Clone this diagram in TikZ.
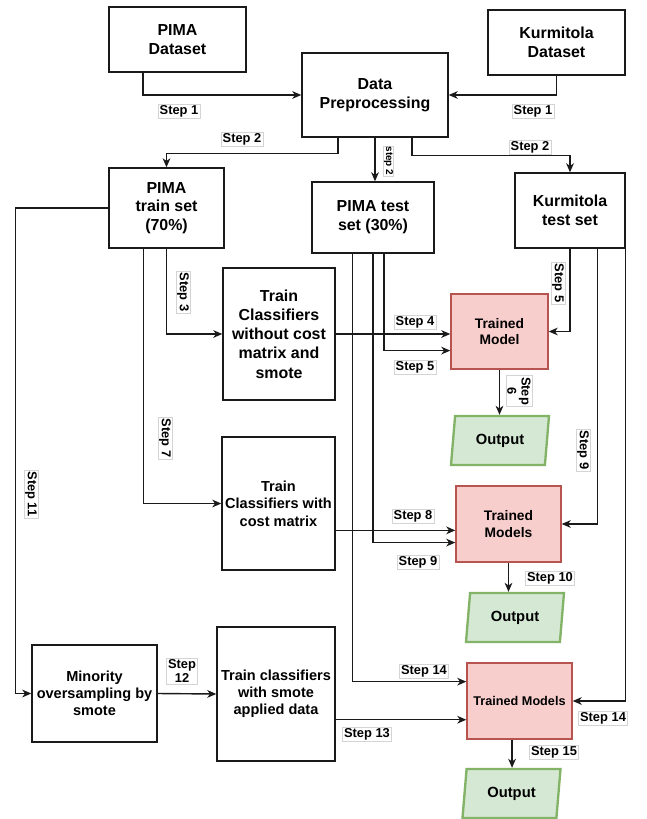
\documentclass[tikz,border=0pt]{standalone}
\usepackage{fontspec}
\setmainfont{Liberation Sans}
\usetikzlibrary{arrows.meta,calc,shapes.geometric,shadows}
\definecolor{Ink}{HTML}{1A1A1A}
\definecolor{ModelFill}{HTML}{F8CECC}
\definecolor{ModelLine}{HTML}{B85450}
\definecolor{OutFill}{HTML}{D5E8D4}
\definecolor{OutLine}{HTML}{82B366}
\definecolor{TagLine}{HTML}{D4D4D4}

\begin{document}
\begin{tikzpicture}[x=0.03cm,y=-0.03cm,>={Stealth[length=2.7mm,width=2.3mm,inset=0.8mm]},
  box/.style={draw=Ink,line width=1.2pt,fill=white,align=center,inner sep=1pt,
    drop shadow={shadow xshift=1.2pt,shadow yshift=-1.2pt,opacity=0.25,fill=black}},
  bigtext/.style={font=\fontsize{13.6}{16}\selectfont\bfseries},
  midtext/.style={font=\fontsize{12.4}{14.4}\selectfont\bfseries},
  model/.style={box,draw=ModelLine,fill=ModelFill},
  output/.style={trapezium,trapezium left angle=73,trapezium right angle=107,trapezium stretches body,
    draw=OutLine,fill=OutFill,line width=2pt,inner sep=0pt,minimum width=2.94cm,minimum height=1.47cm,
    font=\fontsize{12.6}{14}\selectfont\bfseries},
  flow/.style={->,draw=Ink,line width=1.2pt},
  tag/.style={draw=TagLine,line width=0.4pt,fill=white,inner sep=1.2pt,align=center,
    font=\fontsize{11}{12.2}\selectfont\bfseries}]
  \useasboundingbox (0,0) rectangle (646,819);

  % datasets and preprocessing
  \node[box,bigtext,minimum width=4.11cm,minimum height=1.95cm] (pimads) at (177.5,39.5) {PIMA\\Dataset};
  \node[box,bigtext,minimum width=4.11cm,minimum height=1.95cm] (kurds) at (556.5,42.5) {Kurmitola\\Dataset};
  \node[box,bigtext,minimum width=4.38cm,minimum height=2.52cm] (prep) at (375,95) {Data\\Preprocessing};

  % splits
  \node[box,bigtext,minimum width=3.45cm,minimum height=2.40cm] (pimatrain) at (166.5,208) {PIMA\\train set\\(70\%)};
  \node[box,bigtext,minimum width=3.66cm,minimum height=2.13cm] (pimatest) at (373,217.5) {PIMA test\\set (30\%)};
  \node[box,bigtext,minimum width=3.30cm,minimum height=2.25cm] (kurtest) at (570,210.5) {Kurmitola\\test set};

  % training branches
  \node[box,font=\fontsize{13.6}{16.4}\selectfont\bfseries,minimum width=3.36cm,minimum height=3.96cm] (trainA) at (279,334)
    {Train\\Classifiers\\without cost\\matrix and\\smote};
  \node[box,font=\fontsize{12.4}{15}\selectfont\bfseries,minimum width=3.39cm,minimum height=3.99cm] (trainB) at (278.5,503.5)
    {Train\\Classifiers with\\cost matrix};
  \node[box,midtext,minimum width=3.75cm,minimum height=2.91cm] (minor) at (94.5,693.5) {Minority\\oversampling by\\smote};
  \node[box,midtext,minimum width=3.54cm,minimum height=4.02cm] (trainC) at (276,694) {Train classifiers\\with smote\\applied data};

  % models and outputs
  \node[model,font=\fontsize{11.8}{14.2}\selectfont\bfseries,minimum width=2.91cm,minimum height=2.25cm] (modelA) at (499.5,331.5) {Trained\\Model};
  \node[model,font=\fontsize{11.8}{14.2}\selectfont\bfseries,minimum width=3.15cm,minimum height=2.28cm] (modelB) at (508.5,524) {Trained\\Models};
  \node[model,font=\fontsize{10.8}{13}\selectfont\bfseries,minimum width=3.15cm,minimum height=2.28cm] (modelC) at (519.5,701) {Trained Models};
  \node[output] (outA) at (500,440.5) {Output};
  \node[output] (outB) at (515,617.5) {Output};
  \node[output] (outC) at (511.5,793.5) {Output};

  \coordinate (trainBout) at ($(trainB.north east)!0.7!(trainB.south east)$);
  \coordinate (trainCout) at ($(trainC.north east)!0.69!(trainC.south east)$);
  \coordinate (modelCout) at ($(modelC.south west)!0.43!(modelC.south east)$);

  % connectors
  \draw[flow] ($(pimads.south west)!0.25!(pimads.south east)$) |- (prep.west);
  \draw[flow] (kurds.south) |- (prep.east);
  \draw[flow] ($(prep.south west)!0.25!(prep.south east)$) -- ++(0,16) -| (pimatrain.north);
  \draw[flow] (prep.south) -- (prep.south |- pimatest.north);
  \draw[flow] ($(prep.south west)!0.75!(prep.south east)$) -- ++(0,18) -| (kurtest.north);

  \draw[flow] (pimatrain.south) |- (trainA.west);
  \draw[flow] ($(pimatrain.south west)!0.3!(pimatrain.south east)$) |- (trainB.west);
  \draw[flow] (pimatrain.west) -- ++(-93,0) |- (minor.west);

  \draw[flow] (trainA.east) -- (trainA.east -| modelA.west);
  \draw[flow] ($(pimatest.south west)!0.59!(pimatest.south east)$) |- ($(modelA.north west)!0.75!(modelA.south west)$);
  \draw[flow] (kurtest.south) |- (modelA.east);
  \draw[flow] (modelA.south) -- (modelA.south |- outA.north);

  \draw[flow] (trainBout) -- (trainBout -| modelB.west);
  \draw[flow] (pimatest.south) |- ($(modelB.north west)!0.74!(modelB.south west)$);
  \draw[flow] ($(kurtest.south west)!0.745!(kurtest.south east)$) |- (modelB.east);
  \draw[flow] (modelB.south) -- (modelB.south |- outB.north);

  \draw[flow] (minor.east) -- (trainC.west);
  \draw[flow] (trainCout) -- (trainCout -| modelC.west);
  \draw[flow] ($(pimatest.south west)!0.336!(pimatest.south east)$) |- ($(modelC.north west)!0.25!(modelC.south west)$);
  \draw[flow] (kurtest.south east) |- (modelC.east);
  \draw[flow] (modelCout) -- (modelCout |- outC.north);

  % step labels
  \node[tag] (s1a) at (179,111) {Step 1};
  \node[tag] (s1b) at (533,111) {Step 1};
  \node[tag] (s2a) at (242,139) {Step 2};
  \node[tag,rotate=-90,font=\fontsize{8.5}{10}\selectfont\bfseries,inner sep=0.6pt] (s2b) at (388.5,161) {step 2};
  \node[tag] (s2c) at (530,147) {Step 2};
  \node[tag,rotate=-90] (s3) at (183,292) {Step 3};
  \node[tag] (s4) at (415,322) {Step 4};
  \node[tag] (s5a) at (415,367) {Step 5};
  \node[tag,rotate=-90] (s5b) at (558,283) {Step 5};
  \node[tag,rotate=-90] (s6) at (519,391) {Step\\6};
  \node[tag,rotate=-90] (s7) at (165,438) {Step 7};
  \node[tag] (s8) at (413,516) {Step 8};
  \node[tag] (s9a) at (418,562) {Step 9};
  \node[tag,rotate=-90] (s9b) at (583,450) {Step 9};
  \node[tag] (s10) at (550,578) {Step 10};
  \node[tag,rotate=-90] (s11) at (31,494) {Step 11};
  \node[tag] (s12) at (182,671) {Step\\12};
  \node[tag] (s13) at (367,734) {Step 13};
  \node[tag] (s14a) at (424,671) {Step 14};
  \node[tag] (s14b) at (603,718) {Step 14};
  \node[tag] (s15) at (554,752) {Step 15};
\end{tikzpicture}
\end{document}
